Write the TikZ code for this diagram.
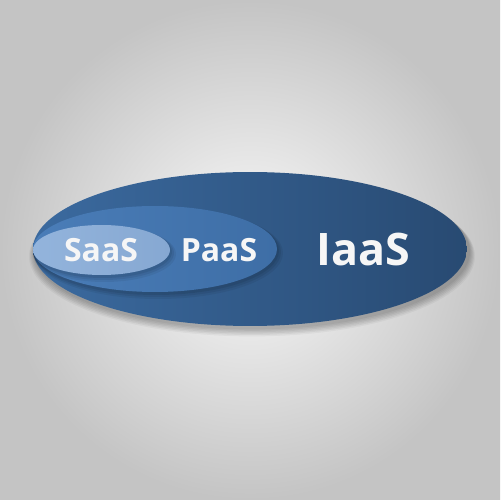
\documentclass[tikz,border=0pt]{standalone}
\usepackage{fontspec}
\setmainfont{Open Sans}
\usetikzlibrary{shapes.geometric}
\definecolor{bgin}{HTML}{FAFAFA}
\definecolor{bgout}{HTML}{C4C4C4}
\definecolor{iaasL}{HTML}{3B6A9F}
\definecolor{iaasR}{HTML}{284A72}
\definecolor{paasL}{HTML}{4A7DB8}
\definecolor{paasR}{HTML}{3E6EA6}
\definecolor{saasL}{HTML}{93B4DC}
\definecolor{saasR}{HTML}{86A8D2}
\definecolor{txt}{HTML}{F6F6F6}
\tikzset{
  ell/.style={ellipse, inner sep=0pt, outer sep=0pt, draw=none},
  shadowell/.style={ellipse, inner sep=0pt, outer sep=0pt, draw=none, fill=black},
  lbl/.style={text=txt, inner sep=0pt, anchor=center}
}
\begin{document}
\begin{tikzpicture}[x=0.02cm,y=0.02cm]
\useasboundingbox (0,0) rectangle (500,500);
\shade[inner color=bgin, outer color=bgout] (0,0) rectangle (500,500);
% shadow of outer ellipse
\foreach \k/\o in {1/0.05,2/0.05,3/0.05,4/0.05,5/0.05,6/0.04}{
  \node[shadowell, fill opacity=\o, minimum width={(434+2*\k)*0.02cm}, minimum height={(154+\k)*0.02cm}] at (252,{251-2-0.9*\k}) {};
}
\node[ell, left color=iaasL, right color=iaasR, minimum width=8.68cm, minimum height=3.08cm] (iaas) at (250,251) {};
% shadow of middle ellipse
\foreach \k/\o in {1/0.08,2/0.07,3/0.06}{
  \node[shadowell, fill opacity=\o, minimum width={(244+2*\k)*0.02cm}, minimum height={(86+2*\k)*0.02cm}] at ({155+\k},{250-\k}) {};
}
\node[ell, left color=paasL, right color=paasR, minimum width=4.88cm, minimum height=1.72cm] (paas) at (155,251) {};
% shadow of inner ellipse
\foreach \k/\o in {1/0.08,2/0.07,3/0.06}{
  \node[shadowell, fill opacity=\o, minimum width={(137+2*\k)*0.02cm}, minimum height={(50+2*\k)*0.02cm}] at ({101.5+\k},{249-\k}) {};
}
\node[ell, left color=saasL, right color=saasR, minimum width=2.74cm, minimum height=1.0cm] (saas) at (101.5,250) {};
\node[lbl, font=\fontsize{18.2}{21}\selectfont\bfseries] (tsaas) at (101,250) {SaaS};
\node[lbl, font=\fontsize{18.2}{21}\selectfont\bfseries] (tpaas) at (219,250) {PaaS};
\node[lbl, font=\fontsize{25.5}{30}\selectfont\bfseries] (tiaas) at (363,250) {IaaS};
\end{tikzpicture}
\end{document}
